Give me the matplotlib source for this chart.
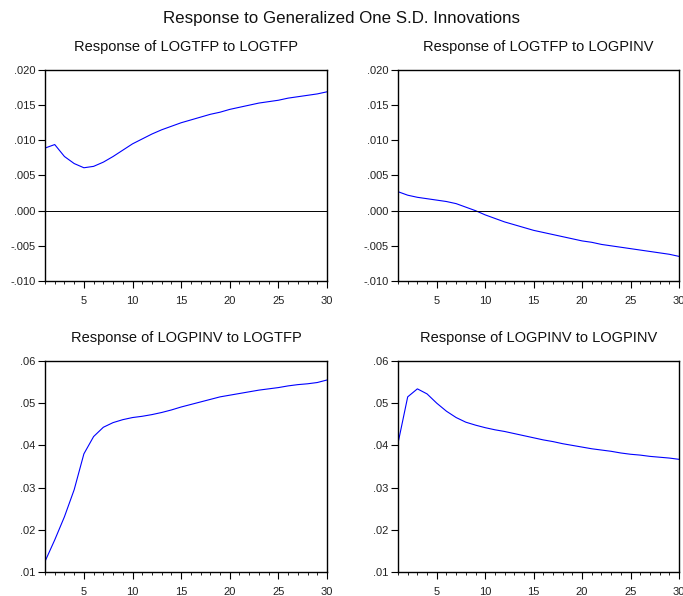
import numpy as np
import matplotlib.pyplot as plt
from matplotlib.ticker import FuncFormatter, MultipleLocator

plt.rcParams['font.family'] = ['Liberation Sans', 'DejaVu Sans']

periods = np.arange(1, 31)

# impulse responses
tfp_to_tfp = [.0089, .0094, .0077, .0067, .0061, .0063, .0069, .0077, .0086, .0095,
              .0102, .0109, .0115, .0120, .0125, .0129, .0133, .0137, .0140, .0144,
              .0147, .0150, .0153, .0155, .0157, .0160, .0162, .0164, .0166, .0169]
tfp_to_pinv = [.0027, .0022, .0019, .0017, .0015, .0013, .0010, .0005, .0000, -.0006,
               -.0011, -.0016, -.0020, -.0024, -.0028, -.0031, -.0034, -.0037, -.0040, -.0043,
               -.0045, -.0048, -.0050, -.0052, -.0054, -.0056, -.0058, -.0060, -.0062, -.0065]
pinv_to_tfp = [.0125, .0176, .0231, .0295, .0380, .0421, .0443, .0454, .0461, .0466,
               .0469, .0473, .0478, .0484, .0491, .0497, .0503, .0509, .0515, .0519,
               .0523, .0527, .0531, .0534, .0537, .0541, .0544, .0546, .0549, .0555]
pinv_to_pinv = [.0405, .0515, .0534, .0522, .0500, .0481, .0466, .0455, .0448, .0442,
                .0437, .0433, .0428, .0423, .0418, .0413, .0409, .0404, .0400, .0396,
                .0392, .0389, .0386, .0382, .0379, .0377, .0374, .0372, .0370, .0367]

titles = ["Response of LOGTFP to LOGTFP", "Response of LOGTFP to LOGPINV",
          "Response of LOGPINV to LOGTFP", "Response of LOGPINV to LOGPINV"]
series = [tfp_to_tfp, tfp_to_pinv, pinv_to_tfp, pinv_to_pinv]


def fmt(v, pos, nd):
    s = f"{v:.{nd}f}"
    s = s.replace("0.", ".", 1)
    if s.startswith("-") and float(s) == 0:
        s = s[1:]
    return s


fig = plt.figure(figsize=(6.83, 5.96), dpi=100)
fig.suptitle("Response to Generalized One S.D. Innovations", x=0.5, y=0.982,
             fontsize=12.2, color='#111111')

rects = [[45 / 683, 1 - 281 / 596, 282 / 683, 211 / 596],
         [398 / 683, 1 - 281 / 596, 281 / 683, 211 / 596],
         [45 / 683, 1 - 572 / 596, 282 / 683, 211 / 596],
         [398 / 683, 1 - 572 / 596, 281 / 683, 211 / 596]]

for i in range(4):
    ax = fig.add_axes(rects[i])
    ax.plot(periods, series[i], color='#0000ff', lw=0.8)
    ax.set_xlim(1, 30)
    if i < 2:
        ax.axhline(0, color='black', lw=0.7)
        ax.set_ylim(-0.010, 0.020)
        ax.yaxis.set_major_locator(MultipleLocator(0.005))
        ax.yaxis.set_major_formatter(FuncFormatter(lambda v, p: fmt(v, p, 3)))
    else:
        ax.set_ylim(0.01, 0.06)
        ax.yaxis.set_major_locator(MultipleLocator(0.01))
        ax.yaxis.set_major_formatter(FuncFormatter(lambda v, p: fmt(v, p, 2)))
    ax.set_xticks([5, 10, 15, 20, 25, 30])
    ax.set_xticks(periods, minor=True)
    ax.tick_params(direction='out', labelsize=8, width=0.8, length=5,
                   labelcolor='#222222')
    ax.tick_params(axis='y', pad=2)
    ax.tick_params(axis='x', pad=6)
    ax.tick_params(which='minor', direction='out', length=2.5, width=0.6)
    for sp in ax.spines.values():
        sp.set_linewidth(1.0)
    ax.set_title(titles[i], fontsize=10.5, pad=14, color='#111111')

plt.savefig("out.png", dpi=100)
